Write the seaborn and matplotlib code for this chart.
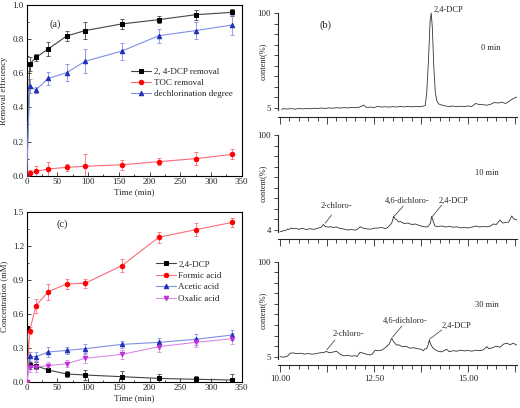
import numpy as np
import pandas as pd
import seaborn as sns
import matplotlib.pyplot as plt
from matplotlib.ticker import MultipleLocator, FixedLocator, FixedFormatter

sns.set_theme(style="ticks")
plt.rcParams['font.family'] = ['Liberation Serif', 'DejaVu Serif']
plt.rcParams['axes.linewidth'] = 0.8

# ---- panel (a): removal efficiency ----
time = [0, 5, 15, 35, 65, 95, 155, 215, 275, 335]
dcp_removal = [0, 0.654, 0.693, 0.742, 0.818, 0.850, 0.889, 0.914, 0.943, 0.957]
dcp_removal_err = [0, 0.04, 0.02, 0.04, 0.03, 0.05, 0.03, 0.02, 0.03, 0.02]
toc_removal = [0, 0.014, 0.025, 0.039, 0.049, 0.055, 0.064, 0.082, 0.100, 0.125]
toc_removal_err = [0, 0.02, 0.03, 0.04, 0.02, 0.07, 0.03, 0.02, 0.04, 0.03]
dechlor = [0, 0.525, 0.502, 0.570, 0.603, 0.670, 0.730, 0.820, 0.850, 0.883]
dechlor_err = [0, 0.04, 0.02, 0.04, 0.05, 0.07, 0.05, 0.04, 0.05, 0.06]

# ---- panel (c): concentrations (mM) ----
dcp_conc = [0.47, 0.144, 0.141, 0.103, 0.068, 0.059, 0.044, 0.029, 0.021, 0.015]
dcp_conc_err = [0, 0.03, 0.03, 0.02, 0.03, 0.04, 0.05, 0.04, 0.03, 0.05]
formic = [0, 0.45, 0.67, 0.794, 0.862, 0.868, 1.024, 1.274, 1.341, 1.406]
formic_err = [0, 0.03, 0.06, 0.07, 0.04, 0.04, 0.06, 0.05, 0.06, 0.04]
acetic = [0, 0.224, 0.22, 0.262, 0.276, 0.291, 0.329, 0.347, 0.374, 0.412]
acetic_err = [0, 0.04, 0.04, 0.04, 0.03, 0.04, 0.03, 0.04, 0.05, 0.04]
oxalic = [0, 0.126, 0.132, 0.141, 0.159, 0.206, 0.241, 0.309, 0.347, 0.379]
oxalic_err = [0, 0.04, 0.05, 0.03, 0.03, 0.04, 0.04, 0.05, 0.04, 0.05]

# ---- panel (b): chromatograms ----
t0 = [10.04, 10.1, 10.2, 10.3, 10.4, 10.5, 10.6, 10.7, 10.8, 10.9, 11.0, 11.1, 11.2, 11.3, 11.4,
      11.5, 11.6, 11.7, 11.8, 11.9, 12.0, 12.1, 12.16, 12.22, 12.3, 12.4, 12.5, 12.6, 12.7, 12.8,
      12.9, 13.0, 13.1, 13.2, 13.3, 13.4, 13.5, 13.6, 13.7, 13.8, 13.86, 13.9, 13.95, 13.99, 14.02,
      14.05, 14.09, 14.13, 14.17, 14.22, 14.3, 14.4, 14.5, 14.6, 14.7, 14.8, 14.9, 15.0, 15.1, 15.2,
      15.3, 15.4, 15.5, 15.6, 15.7, 15.8, 15.9, 16.0, 16.1, 16.2, 16.3]
c0 = [3.8, 4.3, 4.0, 4.4, 3.9, 4.5, 4.1, 4.6, 4.2, 4.8, 4.5, 5.0, 4.6, 5.1, 4.8,
      5.3, 5.0, 5.4, 5.1, 5.6, 5.3, 5.8, 6.5, 8.0, 5.6, 5.9, 5.5, 6.6, 6.0, 6.3,
      5.9, 6.4, 6.0, 6.5, 6.1, 6.5, 6.2, 6.6, 6.3, 6.8, 7.5, 20.0, 55.0, 92.0, 100.0,
      85.0, 45.0, 20.0, 12.0, 9.0, 8.0, 7.0, 6.5, 7.0, 6.3, 6.8, 6.5, 7.0, 6.6, 9.5,
      8.5, 8.3, 7.8, 8.8, 10.5, 10.0, 10.8, 9.5, 12.0, 14.5, 16.0]

t10 = [10.0, 10.05, 10.1, 10.15, 10.2, 10.25, 10.3, 10.35, 10.4, 10.5, 10.6, 10.7, 10.8, 10.9,
       11.0, 11.05, 11.1, 11.15, 11.2, 11.3, 11.35, 11.4, 11.5, 11.6, 11.7, 11.8, 11.9, 12.0,
       12.06, 12.13, 12.2, 12.3, 12.4, 12.5, 12.6, 12.7, 12.8, 12.85, 12.9, 12.95, 12.98, 13.02,
       13.06, 13.1, 13.15, 13.2, 13.3, 13.4, 13.5, 13.6, 13.7, 13.8, 13.9, 13.95, 14.0, 14.03,
       14.07, 14.12, 14.2, 14.3, 14.4, 14.5, 14.6, 14.7, 14.8, 14.9, 15.0, 15.1, 15.17, 15.23,
       15.3, 15.4, 15.5, 15.6, 15.67, 15.75, 15.85, 15.92, 16.0, 16.08, 16.16, 16.22, 16.3]
c10 = [3.3, 3.5, 4.8, 4.5, 6.0, 5.6, 7.0, 6.2, 6.8, 5.8, 6.6, 5.5, 6.3, 5.6,
       6.8, 7.2, 8.0, 10.5, 8.5, 7.8, 8.5, 7.5, 8.0, 6.5, 6.0, 5.0, 5.5, 4.8,
       5.8, 8.3, 7.0, 6.2, 5.8, 6.8, 7.0, 7.5, 6.5, 7.2, 9.0, 11.0, 13.0, 18.5,
       16.0, 15.5, 13.0, 13.5, 11.5, 12.0, 10.5, 11.0, 9.5, 8.5, 8.0, 9.0, 12.0, 18.5,
       14.0, 9.0, 8.5, 9.0, 8.0, 8.6, 7.8, 8.2, 7.2, 7.5, 7.0, 8.0, 8.5, 9.0,
       8.0, 8.5, 8.2, 9.0, 11.0, 10.5, 15.0, 12.0, 12.5, 13.0, 19.0, 16.0, 15.0]

t30 = [10.0, 10.1, 10.2, 10.27, 10.35, 10.45, 10.55, 10.65, 10.75, 10.85, 10.95, 11.05, 11.15,
       11.24, 11.3, 11.4, 11.5, 11.6, 11.7, 11.8, 11.9, 12.0, 12.05, 12.13, 12.25, 12.39, 12.45,
       12.53, 12.6, 12.7, 12.8, 12.9, 12.97, 13.02, 13.1, 13.15, 13.25, 13.35, 13.45, 13.55, 13.65,
       13.75, 13.81, 13.86, 13.9, 13.94, 13.97, 14.0, 14.05, 14.12, 14.2, 14.3, 14.43, 14.5, 14.6,
       14.7, 14.8, 14.9, 15.0, 15.1, 15.2, 15.3, 15.4, 15.5, 15.55, 15.65, 15.75, 15.85, 15.95,
       16.03, 16.12, 16.2, 16.3]
c30 = [5.0, 4.5, 5.5, 8.5, 8.8, 8.0, 8.5, 7.6, 8.2, 7.5, 8.0, 8.8, 9.2,
       10.2, 9.0, 9.5, 10.5, 7.5, 5.8, 6.5, 5.5, 6.0, 5.2, 9.5, 8.0, 6.7, 7.5,
       11.5, 11.0, 11.5, 14.0, 17.5, 23.5, 20.0, 16.5, 17.0, 15.0, 15.5, 13.5, 14.0, 13.0,
       12.5, 11.0, 13.0, 13.0, 17.0, 21.7, 18.0, 14.5, 12.0, 10.5, 9.8, 12.4, 10.0, 11.0,
       10.5, 11.5, 10.8, 11.2, 10.5, 11.5, 11.0, 11.8, 15.0, 13.0, 14.0, 15.5, 14.5, 17.7,
       18.4, 17.0, 18.5, 16.5]

fig = plt.figure(figsize=(5.2, 4.08), dpi=100)


def draw_series(ax, y, err, marker, mcolor, lcolor, label):
    ax.errorbar(time, y, yerr=err, fmt='none', ecolor=lcolor, elinewidth=0.6,
                capsize=1.6, capthick=0.6, zorder=2)
    sns.lineplot(x=time, y=y, ax=ax, color=lcolor, linewidth=0.8, marker=marker,
                 markersize=3.2, markerfacecolor=mcolor, markeredgecolor=mcolor,
                 label=label, zorder=3)


def style_left(ax, ymax, ystep, ylabel):
    ax.set_xlim(0, 350)
    ax.set_ylim(0, ymax)
    ax.xaxis.set_major_locator(MultipleLocator(50))
    ax.xaxis.set_minor_locator(MultipleLocator(25))
    ax.yaxis.set_major_locator(MultipleLocator(ystep))
    ax.yaxis.set_minor_locator(MultipleLocator(ystep / 2))
    ax.tick_params(which='both', direction='in', labelsize=6.5, width=0.6, pad=2)
    ax.tick_params(which='major', length=3)
    ax.tick_params(which='minor', length=1.5)
    ax.set_xlabel('Time (min)', fontsize=6.5, labelpad=1)
    ax.set_ylabel(ylabel, fontsize=6.2)
    ax.yaxis.set_label_coords(-0.088, 0.5)
    for s in ax.spines.values():
        s.set_color('black')


# (a)
ax_a = fig.add_axes([0.0513, 0.5694, 0.4135, 0.4184])
draw_series(ax_a, dcp_removal, dcp_removal_err, 's', '#000000', '#444444', '2, 4-DCP removal')
draw_series(ax_a, toc_removal, toc_removal_err, 'o', '#ff0000', '#ff6a7a', 'TOC removal')
draw_series(ax_a, dechlor, dechlor_err, '^', '#1f2fb8', '#7f8fe6', 'dechlorination degree')
style_left(ax_a, 1.0, 0.2, 'Removal efficiency')
ax_a.yaxis.set_major_formatter(plt.FormatStrFormatter('%.1f'))
ax_a.legend(loc='center left', bbox_to_anchor=(0.485, 0.545), frameon=False, fontsize=6.5,
            handlelength=2.2, handletextpad=0.3, labelspacing=0.3, borderaxespad=0, borderpad=0)
ax_a.text(46, 0.89, '(a)', fontsize=7.5, ha='center', va='center')

# (c)
ax_c = fig.add_axes([0.0513, 0.0645, 0.4135, 0.4167])
draw_series(ax_c, dcp_conc, dcp_conc_err, 's', '#000000', '#444444', '2,4-DCP')
draw_series(ax_c, formic, formic_err, 'o', '#ff0000', '#ff6a7a', 'Formic acid')
draw_series(ax_c, acetic, acetic_err, '^', '#1f2fb8', '#7f8fe6', 'Acetic acid')
draw_series(ax_c, oxalic, oxalic_err, 'v', '#c030d8', '#d88ae6', 'Oxalic acid')
style_left(ax_c, 1.5, 0.3, 'Concentration (mM)')
ax_c.yaxis.set_major_formatter(plt.FormatStrFormatter('%.1f'))
ax_c.legend(loc='center left', bbox_to_anchor=(0.60, 0.59), frameon=False, fontsize=6.5,
            handlelength=2.2, handletextpad=0.3, labelspacing=0.35, borderaxespad=0, borderpad=0)
ax_c.text(57, 1.39, '(c)', fontsize=7.5, ha='center', va='center')

# (b) chromatograms
ytick_pos = list(np.linspace(5, 100, 10))
xmajor = [10.0, 11.25, 12.5, 13.75, 15.0, 16.25]


def chrom_axes(bottom, t, c, low_label, show_x):
    ax = fig.add_axes([0.5346, bottom, 0.4596, 0.2426])
    sns.lineplot(x=t, y=c, ax=ax, color='#333333', linewidth=0.6)
    ax.set_xlim(9.947, 16.30)
    ax.set_ylim(2, 101)
    for side in ['top', 'right']:
        ax.spines[side].set_visible(False)
    ax.spines['bottom'].set_position(('outward', 4))
    ax.spines['left'].set_bounds(3, 100)
    ax.yaxis.set_major_locator(FixedLocator(ytick_pos))
    ax.yaxis.set_major_formatter(FixedFormatter([low_label] + [''] * 8 + ['100']))
    ax.xaxis.set_major_locator(FixedLocator(xmajor))
    labels = ['10.00', '', '12.50', '', '15.00', ''] if show_x else [''] * 6
    ax.xaxis.set_major_formatter(FixedFormatter(labels))
    ax.xaxis.set_minor_locator(MultipleLocator(0.25))
    ax.tick_params(which='both', direction='out', labelsize=6.5, width=0.6, pad=2)
    ax.tick_params(axis='y', which='major', length=3)
    ax.tick_params(axis='x', which='major', length=5)
    ax.tick_params(axis='x', which='minor', length=3)
    ax.set_ylabel('content(%)', fontsize=6)
    ax.yaxis.set_label_coords(-0.045, 0.5)
    return ax


ax_b1 = chrom_axes(0.7279, t0, c0, '5', False)
ax_b2 = chrom_axes(0.4289, t10, c10, '4', False)
ax_b3 = chrom_axes(0.1184, t30, c30, '5', True)

tfs = 6
ax_b1.text(14.08, 103, '2,4-DCP', fontsize=tfs, ha='left', va='center', clip_on=False)
ax_b1.text(11.2, 88, '(b)', fontsize=7.5, ha='center', va='center')
ax_b1.text(15.59, 65, '0 min', fontsize=tfs, ha='center', va='center')
ax_b2.text(15.5, 61.7, '10 min', fontsize=tfs, ha='center', va='center')
ax_b3.text(15.5, 56.7, '30 min', fontsize=tfs, ha='center', va='center')

line = dict(arrowstyle='-', color='#333333', lw=0.5, shrinkA=0, shrinkB=0)
for ax, lab, xy, xyt, txt in [
    (ax_b2, '2-chloro-', (11.2, 11.7), (11.37, 20), (11.51, 29)),
    (ax_b2, '4,6-dichloro-', (13.01, 17.7), (13.28, 29), (13.37, 34.3)),
    (ax_b2, '2,4-DCP', (14.03, 17.7), (14.3, 30), (14.61, 34.3)),
    (ax_b3, '2-chloro-', (11.24, 11.7), (11.46, 21.7), (11.82, 27.7)),
    (ax_b3, '4,6-dichloro-', (12.99, 24.4), (13.24, 35.7), (13.32, 41)),
    (ax_b3, '2,4-DCP', (13.97, 22.4), (14.3, 31.7), (14.7, 36)),
]:
    ax.annotate('', xy=xy, xytext=xyt, arrowprops=line)
    ax.text(txt[0], txt[1], lab, fontsize=tfs, ha='center', va='center')

fig.savefig('out.png', dpi=100)
